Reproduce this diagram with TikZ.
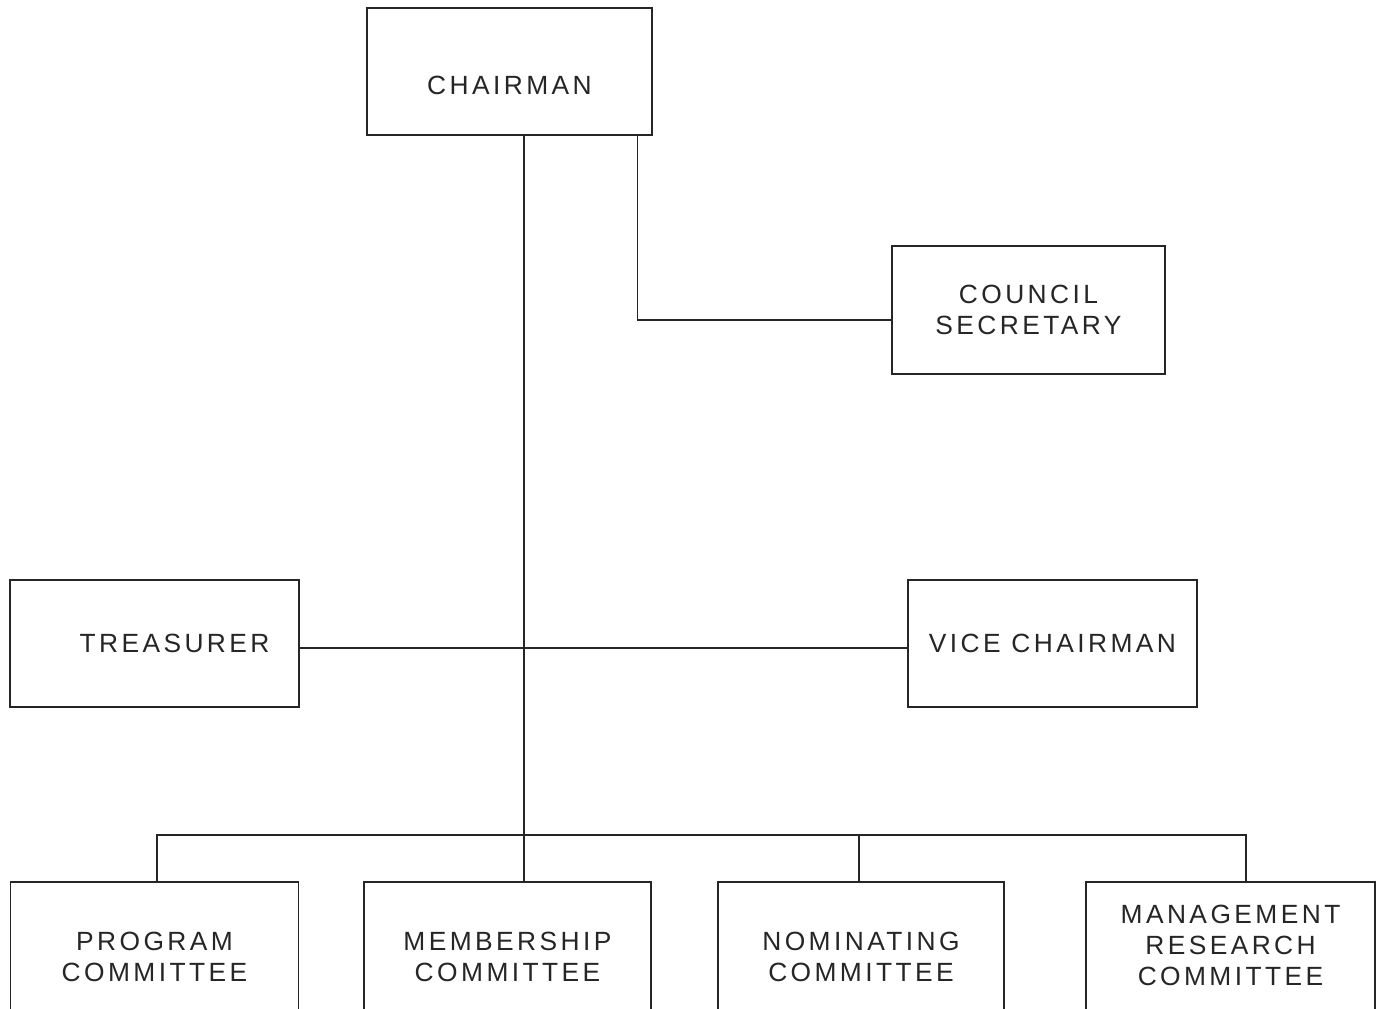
\documentclass[tikz,border=0pt]{standalone}
\usepackage{fontspec}
\setmainfont{Liberation Sans}[LetterSpace=13]
\usetikzlibrary{positioning}

\begin{document}
\begin{tikzpicture}[
  x=0.02cm,y=0.02cm,
  link/.style={draw=black!85,line width=0.7pt},
  post/.style={draw=black!85,line width=0.7pt,fill=white,align=center,
    inner sep=0pt,font=\fontsize{15}{17.6}\selectfont,text=black!85},
  top/.style={post,minimum width=5.7cm,minimum height=2.54cm},
  row/.style={post,minimum width=5.76cm,minimum height=3.0cm}
]
\useasboundingbox (0,0) rectangle (1385,1008);
\clip (0,0) rectangle (1385,1008);

% officers
\node[top] (chair) at (509.5,936.5) {\raisebox{-0.46cm}[0pt][0pt]{CHAIRMAN}};
\node[top,minimum width=5.46cm,minimum height=2.56cm] (secy) at (1028.5,698) {COUNCIL\\SECRETARY};
\node[top,minimum width=5.78cm] (treas) at (154.5,364.5) {\hspace{0.8cm}TREASURER};
\node[top,minimum width=5.78cm] (vice) at (1052.5,364.5) {VICE CHAIRMAN};

% committees (cut at the lower edge)
\node[row] (prog) at (154.5,51) {PROGRAM\\COMMITTEE};
\node[row,minimum width=5.74cm] (memb) at (507.5,51) {MEMBERSHIP\\COMMITTEE};
\node[row,minimum width=5.72cm] (nomin) at (861,51) {NOMINATING\\COMMITTEE};
\node[row,minimum width=5.78cm] (mgmt) at (1230.5,51)
  {\raisebox{0.04cm}[0pt][0pt]{\begin{tabular}{@{}c@{}}MANAGEMENT\\RESEARCH\\COMMITTEE\end{tabular}}};

\coordinate (bus) at (524,173);

\draw[link] ([xshift=0.29cm]chair.south) -- ([xshift=0.29cm]chair.south |- memb.north);
\draw[link] ([xshift=-0.3cm]chair.south east) |- ([yshift=-0.2cm]secy.west);
\draw[link] ([yshift=-0.09cm]treas.east) -- ([yshift=-0.09cm]treas.east -| vice.west);
\draw[link] ([xshift=0.05cm]prog.north) |- (bus) -| ([xshift=0.31cm]mgmt.north);
\draw[link] ([xshift=-0.04cm]nomin.north) -- ([xshift=-0.04cm]nomin.north |- bus);

\end{tikzpicture}
\end{document}
